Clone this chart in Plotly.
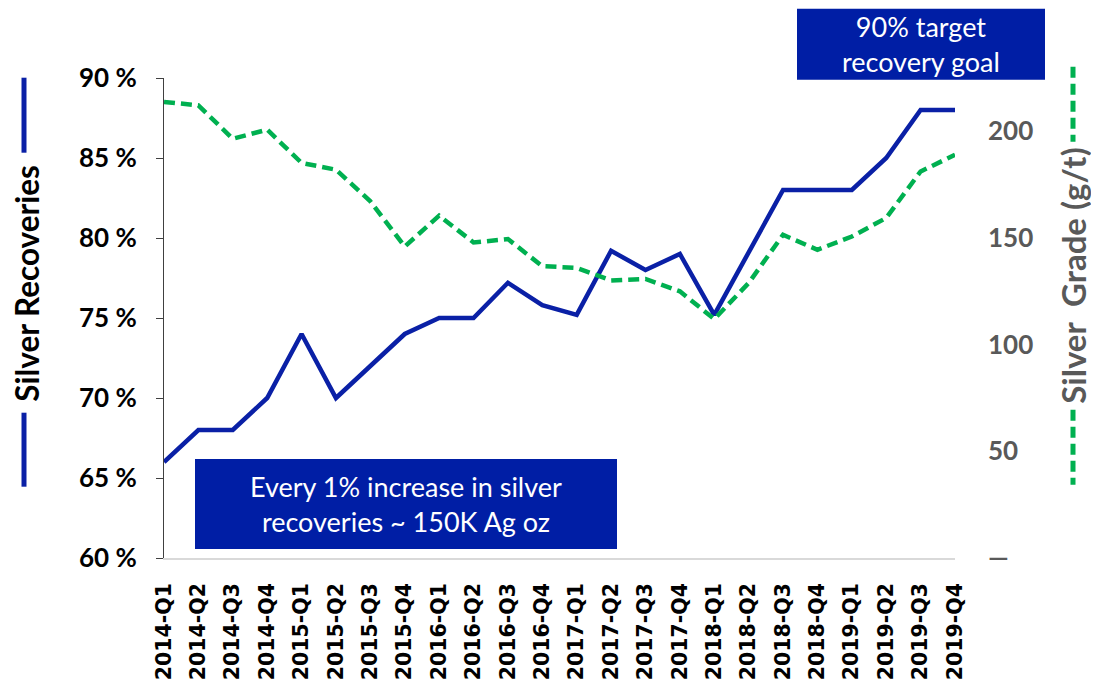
import plotly.graph_objects as go

quarters = ["2014-Q1","2014-Q2","2014-Q3","2014-Q4",
            "2015-Q1","2015-Q2","2015-Q3","2015-Q4",
            "2016-Q1","2016-Q2","2016-Q3","2016-Q4",
            "2017-Q1","2017-Q2","2017-Q3","2017-Q4",
            "2018-Q1","2018-Q2","2018-Q3","2018-Q4",
            "2019-Q1","2019-Q2","2019-Q3","2019-Q4"]

silver_recoveries = [66, 68, 68, 70, 74, 70, 72, 74, 75, 75, 77.2, 75.8,
                     75.2, 79.2, 78.0, 79.0, 75.2, 79.1, 83, 83, 83, 85, 88, 88]

silver_grade = [213.8, 212.2, 196.5, 200.8, 185.2, 182, 167.2, 146, 160.5, 147.9, 149.5, 136.8,
                136, 130.1, 130.8, 125, 112, 128.9, 151.5, 144.5, 150.7, 159.4, 181.2, 189]

left_ticks = [60, 65, 70, 75, 80, 85, 90]
right_tickvals = [0, 50, 100, 150, 200]
right_ticktext = ["—", "50", "100", "150", "200"]

BLUE = "#0A20A6"
BOX = "#001EA5"
GREEN = "#00B050"
GRAY = "#595959"

fig = go.Figure()
fig.add_trace(go.Scatter(x=quarters, y=silver_recoveries, mode="lines",
                         line=dict(color=BLUE, width=4.5), yaxis="y", name="Silver Recoveries"))
fig.add_trace(go.Scatter(x=quarters, y=silver_grade, mode="lines",
                         line=dict(color=GREEN, width=4.5, dash="11px,6px"), yaxis="y2", name="Silver Grade"))

OFF = 8  # page body margin
L, R, T, B = 164 - OFF, 955 - OFF, 78.3 - OFF, 558.3 - OFF
W, H = 1099 - OFF, 686 - OFF
pw, ph = R - L, B - T

def px(x):
    return (x - OFF - L) / pw

def py(y):
    return (B - (y - OFF)) / ph

shapes = []
annotations = []

# left axis title decoration
shapes.append(dict(type="line", xref="paper", yref="paper", x0=px(24), x1=px(24), y0=py(78), y1=py(153),
                   line=dict(color=BLUE, width=5)))
shapes.append(dict(type="line", xref="paper", yref="paper", x0=px(24), x1=px(24), y0=py(413), y1=py(487),
                   line=dict(color=BLUE, width=5)))
annotations.append(dict(text="<b>Silver Recoveries</b>", xref="paper", yref="paper", x=px(27), y=py(284),
                        textangle=-90, showarrow=False, xanchor="center", yanchor="middle", borderpad=0,
                        font=dict(family="Lato", size=31.5, color="black")))

# right axis title decoration
shapes.append(dict(type="line", xref="paper", yref="paper", x0=px(1073), x1=px(1073), y0=py(67), y1=py(142),
                   line=dict(color=GREEN, width=5, dash="11px,6px")))
shapes.append(dict(type="line", xref="paper", yref="paper", x0=px(1073), x1=px(1073), y0=py(410), y1=py(485),
                   line=dict(color=GREEN, width=5, dash="11px,6px")))
annotations.append(dict(text="<b>Silver  Grade (g/t)</b>", xref="paper", yref="paper", x=px(1073), y=py(276),
                        textangle=-90, showarrow=False, xanchor="center", yanchor="middle", borderpad=0,
                        font=dict(family="Lato", size=33, color=GRAY)))

# boxes
shapes.append(dict(type="rect", xref="paper", yref="paper", x0=px(195), x1=px(617), y0=py(549.3), y1=py(459.3),
                   fillcolor=BOX, line=dict(width=0), layer="above"))
annotations.append(dict(text="Every 1% increase in silver<br>recoveries ~ 150K Ag oz", xref="paper", yref="paper",
                        x=px(406), y=py(504.3), showarrow=False, xanchor="center", yanchor="middle",
                        font=dict(family="Lato", size=27, color="white")))
shapes.append(dict(type="rect", xref="paper", yref="paper", x0=px(797), x1=px(1045), y0=py(80), y1=py(9),
                   fillcolor=BOX, line=dict(width=0), layer="above"))
annotations.append(dict(text="90% target<br>recovery goal", xref="paper", yref="paper",
                        x=px(921), y=py(44.5), showarrow=False, xanchor="center", yanchor="middle",
                        font=dict(family="Lato", size=27, color="white")))

fig.update_layout(
    width=W, height=H, autosize=False,
    margin=dict(l=L, r=W - R, t=T, b=H - B, pad=0, autoexpand=False),
    paper_bgcolor="white", plot_bgcolor="white",
    showlegend=False,
    shapes=shapes, annotations=annotations,
    xaxis=dict(type="category", categoryorder="array", categoryarray=quarters,
               tickangle=-90, showgrid=False, showline=True, linecolor="#D9D9D9", linewidth=1.5,
               ticks="", ticklabelstandoff=15, automargin=False,
               tickfont=dict(family="DejaVu Sans", size=20.5, color="black", weight="bold"),
               zeroline=False, fixedrange=True),
    yaxis=dict(range=[60, 90], tickvals=left_ticks, ticktext=[f"{v} %" for v in left_ticks],
               showgrid=False, showline=True, linecolor="#404040", linewidth=1,
               ticks="outside", ticklen=7, tickcolor="#404040", ticklabelstandoff=14, automargin=False,
               tickfont=dict(family="Lato", size=26, color="black", weight="bold"),
               zeroline=False),
    yaxis2=dict(range=[0, 225], overlaying="y", side="right", tickvals=right_tickvals, ticktext=right_ticktext,
                showgrid=False, showline=False, ticks="", ticklabelstandoff=32, automargin=False,
                tickfont=dict(family="Lato", size=26, color=GRAY, weight="bold"),
                zeroline=False),
)

fig.write_html("out.html")
